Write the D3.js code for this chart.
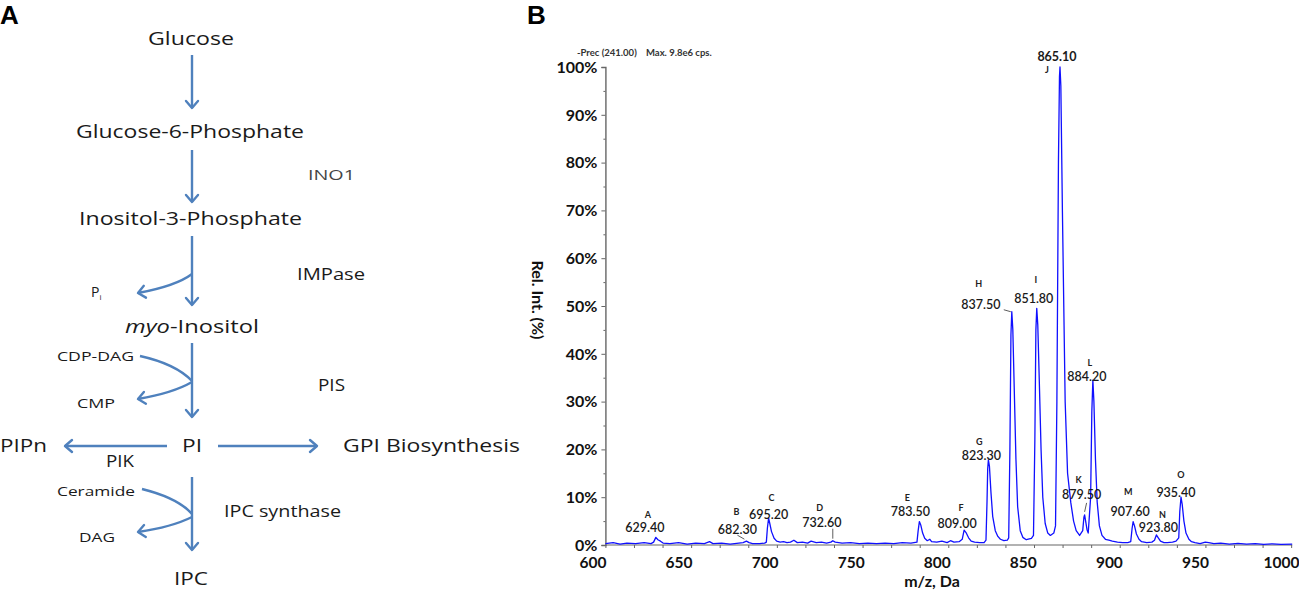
<!DOCTYPE html>
<html lang="en">
<head>
<meta charset="utf-8">
<title>Inositol pathway and MS spectrum</title>
<script src="https://d3js.org/d3.v7.min.js"></script>
<style>
  body { margin: 0; background: #fff; }
  svg { display: block; }
</style>
</head>
<body>
<svg width="1299" height="591"></svg>
<script>
// ---- panel B data: precursor ion scan trace (m/z on drawn axis, relative intensity %) ----
var traceMz = [607.5,612,616,620,625,630,634,
  635.5,636.8,638,639.5,641,645,650,655,660,665,668,670,675,680,685,
  687.5,689.4,691,693,697,700,
  701,701.6,702.3,703,704,705.5,707,709,711,713,715,717,719,722,725,727,730,733,736,
  738.5,739.6,741,745,750,755,760,765,770,775,780,785,
  788.5,789.2,789.9,790.7,791.8,793,794.5,796,797,800,803,806,808,810,813,
  814.8,815.9,817,818.5,820,822,825,827.5,
  828.6,829.2,829.6,830,830.6,831.5,832.5,834,835.5,837,839,841,
  841.8,842.5,843.1,843.6,844.2,845,846,847,848.5,850,852,855,
  856.2,857,857.6,858.1,858.7,859.6,860.6,861.6,863,864.5,866,868,
  869,869.8,870.7,871.3,871.6,872.1,873,874.6,876,877.9,879.5,881,883,
  884.8,885.5,885.9,886.5,887.3,
  888,889.4,890.1,890.7,891.3,892.2,893.2,894.5,896,898,900,902,905,908,911,
  912.7,913.5,914.1,914.9,916,917.5,919,922,925,
  926.5,927.6,928.5,930,932,934,937,939,
  940.6,941.2,941.9,942.6,943.6,944.8,946.5,948,950,
  953,956,958,961,965,970,975,980,985,990,995,1000,1006.5];
var tracePct = [0.3,0.5,0.2,0.4,0.3,0.5,0.3,
  0.6,1.6,1.1,0.8,0.4,0.3,0.5,0.2,0.4,0.3,0.7,0.3,0.4,0.2,0.4,
  0.5,0.8,0.5,0.3,0.3,0.4,
  0.6,3.5,5.6,4.5,2.8,1.4,0.8,0.6,0.7,0.5,0.6,1.0,0.5,0.6,0.4,0.8,0.5,0.6,0.4,
  0.6,0.9,0.6,0.4,0.5,0.3,0.4,0.3,0.4,0.3,0.5,0.4,
  0.6,3.0,4.9,4.2,2.5,1.4,0.9,1.2,0.7,0.6,0.8,0.5,0.9,0.6,0.7,
  1.2,3.1,2.6,1.5,0.8,0.6,0.5,0.5,
  1.0,9,16,17.8,16.5,11,6,3,1.8,1.2,0.9,1.0,
  1.5,20,44,48.8,45,33,18,8,3,1.6,1.1,1.4,
  2,22,45,49.5,46,34,20,10,4.5,2.5,2,2.5,
  4,30,80,98,100,96,70,30,15,8.8,5,3,2,
  3,5.8,6.3,5,3.2,
  2.5,10,28,34.5,30,18,9,4,2,1.2,1.0,0.8,0.6,0.5,0.5,
  0.7,3.5,4.9,4.0,2.3,1.2,0.7,0.5,0.6,
  1.0,2.1,1.6,0.8,0.5,0.5,0.6,0.8,
  1.5,7,10,8.5,5,2.5,1.2,0.7,0.5,
  0.3,0.6,0.5,0.3,0.4,0.2,0.35,0.2,0.3,0.15,0.25,0.15,0.2];

// annotated peaks
var peakIds = ["A","B","C","D","E","F","G","H","I","J","K","L","M","N","O"];
var peakLabels = ["629.40","682.30","695.20","732.60","783.50","809.00","823.30","837.50",
  "851.80","865.10","879.50","884.20","907.60","923.80","935.40"];
var peakMz = [636.8,689.4,702.3,739.6,789.9,815.9,830.0,843.6,858.1,871.6,885.9,890.7,914.1,927.6,941.9];
var peakPct = [1.6,0.8,5.6,0.9,4.9,3.1,17.8,48.8,49.5,100,6.3,34.5,4.9,2.1,10.0];

var xTicks = [600,650,700,750,800,850,900,950,1000];
var yTicks = [0,10,20,30,40,50,60,70,80,90,100];

// label offsets from the apex (layout only)
var labelPos = {
  A:{l:[-8,-23],n:[-11,-10]}, B:{l:[-10,-29],n:[-9,-12],lead:[[-9,-6],[-2,-2]]},
  C:{l:[3,-20],n:[0,-4]},     D:{l:[-13,-33],n:[-11,-18],lead:[[0,-12],[0,-2]]},
  E:{l:[-12,-24],n:[-9,-10]}, F:{l:[-3,-22],n:[-7,-7]},
  G:{l:[-9,-18],n:[-7,-4]},   H:{l:[-33,-28],n:[-31,-7],lead:[[-8,-2],[-1,0]]},
  I:{l:[-1,-29],n:[-3,-10]},  J:{l:[-13,3],n:[-3,-10]},
  K:{l:[-6,-35],n:[-3,-20],lead:[[2,-12],[0,-3]]},
  L:{l:[-3,-17],n:[-6,-3]},   M:{l:[-5,-30],n:[-3,-10]},
  N:{l:[6,-20],n:[2,-7]},     O:{l:[0,-22],n:[-5,-5]}
};

var svg = d3.select("svg");
var blue = "#4f81bd";

// ================= panel A: pathway =================
var gA = svg.append("g").attr("class","panelA");
svg.append("defs").append("marker")
  .attr("id","chev").attr("markerUnits","userSpaceOnUse")
  .attr("viewBox","-9 -8 11 16").attr("refX",0).attr("refY",0)
  .attr("markerWidth",11).attr("markerHeight",16).attr("orient","auto")
  .append("path").attr("d","M-7,-6 L0,0 L-7,6")
  .attr("fill","none").attr("stroke",blue).attr("stroke-width",2.4)
  .attr("stroke-linecap","round").attr("stroke-linejoin","round");

svg.append("text").attr("x",0).attr("y",24)
  .style("font-family","Liberation Sans, Arial, sans-serif").style("font-weight","bold")
  .style("font-size","26px").text("A");
svg.append("text").attr("x",527).attr("y",24)
  .style("font-family","Liberation Sans, Arial, sans-serif").style("font-weight","bold")
  .style("font-size","26px").text("B");

var nodes = [
  {t:"Glucose", x:148, y:45, w:86, s:18},
  {t:"Glucose-6-Phosphate", x:76, y:138, w:228, s:18},
  {t:"INO1", x:308, y:180, w:47, s:15, c:"#444"},
  {t:"Inositol-3-Phosphate", x:79, y:225, w:223, s:18},
  {t:"IMPase", x:297, y:280, w:68, s:16},
  {t:"CDP-DAG", x:57, y:361, w:77, s:13},
  {t:"CMP", x:77, y:408, w:38, s:13},
  {t:"PIS", x:318, y:391, w:27, s:16},
  {t:"PIPn", x:0, y:452, w:47, s:18},
  {t:"PI", x:182, y:452, w:20, s:18},
  {t:"GPI Biosynthesis", x:343, y:452, w:177, s:18},
  {t:"PIK", x:106, y:467, w:28, s:16},
  {t:"Ceramide", x:57, y:496, w:78, s:13},
  {t:"IPC synthase", x:224, y:517, w:117, s:16},
  {t:"DAG", x:79, y:542, w:36, s:13},
  {t:"IPC", x:174, y:585, w:34, s:18}
];
gA.selectAll("text.node").data(nodes).enter().append("text")
  .attr("class","node")
  .attr("x",function(d){return d.x;}).attr("y",function(d){return d.y;})
  .attr("textLength",function(d){return d.w;}).attr("lengthAdjust","spacingAndGlyphs")
  .style("font-family","Open Sans, sans-serif")
  .style("font-size",function(d){return d.s+"px";})
  .style("fill",function(d){return d.c || "#1a1a1a";})
  .text(function(d){return d.t;});

var myo = gA.append("text").attr("x",125).attr("y",333)
  .attr("textLength",134).attr("lengthAdjust","spacingAndGlyphs")
  .style("font-family","Open Sans, sans-serif").style("font-size","18px").style("fill","#1a1a1a");
myo.append("tspan").style("font-style","italic").text("myo");
myo.append("tspan").text("-Inositol");

var pi = gA.append("text").attr("x",91).attr("y",297)
  .style("font-family","Open Sans, sans-serif").style("font-size","14px").style("fill","#1a1a1a");
pi.append("tspan").text("P");
pi.append("tspan").attr("dy",3).style("font-size","8px").text("i");

var arrows = [
  "M192,55 L192,108",
  "M192,150 L192,202",
  "M192,236 L192,305",
  "M192,274 Q176,286 138,293",
  "M192,343 L192,417",
  "M192,382 Q173,393 138,399",
  "M167,446 L65,446",
  "M218,446 L317,446",
  "M192,477 L192,550",
  "M192,517 Q172,527 138,532"
];
gA.selectAll("path.arr").data(arrows).enter().append("path")
  .attr("class","arr").attr("d",function(d){return d;})
  .attr("fill","none").attr("stroke",blue).attr("stroke-width",2.4)
  .attr("marker-end","url(#chev)");
// substrate branches without arrowheads
["M140,356 Q176,364 192,381","M142,489 Q178,498 192,514"].forEach(function(p){
  gA.append("path").attr("d",p).attr("fill","none")
    .attr("stroke",blue).attr("stroke-width",2.4);
});

// ================= panel B: spectrum =================
var x = d3.scaleLinear().domain([600,1000]).range([592.5,1281]);
var y = d3.scaleLinear().domain([0,100]).range([545,67]);
var x0 = 607.5, x1 = 1006.5;
var gB = svg.append("g").attr("class","panelB");
var fontB = "Lato, Carlito, Calibri, sans-serif";

svg.append("text").attr("x",577).attr("y",56)
  .style("font-family",fontB).style("font-size","9.5px").style("font-weight","bold")
  .style("fill","#333").attr("xml:space","preserve")
  .text("-Prec (241.00)    Max. 9.8e6 cps.");

// y axis
var yAxis = gB.append("g").attr("transform","translate("+x(x0)+",0)")
  .call(d3.axisLeft(y).tickValues(yTicks).tickSize(4).tickPadding(4)
    .tickFormat(function(d){return d+"%";}));
yAxis.select(".domain").attr("stroke","#666").attr("stroke-width",1.4);
yAxis.selectAll(".tick line").attr("stroke","#666");
yAxis.selectAll(".tick text").style("font-family",fontB).style("font-weight","bold")
  .style("font-size","16px").attr("fill","#111").attr("dy","0.33em");
gB.append("g").attr("transform","translate("+x(x0)+",0)")
  .call(d3.axisLeft(y).tickValues(d3.range(5,100,10)).tickSize(2).tickFormat(""))
  .call(function(g){ g.select(".domain").remove(); g.selectAll("line").attr("stroke","#666"); });

// x axis
var xAxis = gB.append("g").attr("transform","translate(0,"+y(0)+")")
  .call(d3.axisBottom(x).tickValues(xTicks).tickSize(0).tickPadding(12)
    .tickFormat(d3.format("d")));
xAxis.select(".domain").remove();
xAxis.selectAll(".tick text").style("font-family",fontB).style("font-weight","bold")
  .style("font-size","15.5px").attr("fill","#111");
gB.append("g").attr("transform","translate(0,"+y(0)+")")
  .call(d3.axisBottom(x).tickValues(d3.range(x0,x1,16.6)).tickSize(3).tickFormat(""))
  .call(function(g){ g.select(".domain").remove(); g.selectAll("line").attr("stroke","#666"); });
gB.append("line").attr("x1",x(x0)).attr("x2",x(x1)).attr("y1",y(0)).attr("y2",y(0))
  .attr("stroke","#666").attr("stroke-width",1.2);

gB.append("text").attr("x",932).attr("y",587).attr("text-anchor","middle")
  .style("font-family",fontB).style("font-weight","bold").style("font-size","16px")
  .style("fill","#111").text("m/z, Da");
gB.append("text").attr("transform","translate(532,300) rotate(90)").attr("text-anchor","middle")
  .style("font-family",fontB).style("font-weight","bold").style("font-size","16px")
  .style("fill","#111").text("Rel. Int. (%)");

// trace
var pts = traceMz.map(function(m,i){return [m,tracePct[i]];});
gB.append("path").datum(pts)
  .attr("d",d3.line().x(function(d){return x(d[0]);}).y(function(d){return y(d[1]);}))
  .attr("fill","none").attr("stroke","#1010ff").attr("stroke-width",1.3)
  .attr("stroke-linejoin","round");

// peak annotations
var peaks = peakIds.map(function(id,i){
  return {id:id, lab:peakLabels[i], px:x(peakMz[i]), py:y(peakPct[i])};
});
var pg = gB.selectAll("g.peak").data(peaks).enter().append("g").attr("class","peak");
pg.append("text")
  .attr("x",function(d){return d.px+labelPos[d.id].l[0];})
  .attr("y",function(d){return d.py+labelPos[d.id].l[1];})
  .attr("dy","0.35em").attr("text-anchor","middle")
  .style("font-family",fontB).style("font-weight","bold").style("font-size","9px")
  .style("fill","#222").text(function(d){return d.id;});
pg.append("text")
  .attr("x",function(d){return d.px+labelPos[d.id].n[0];})
  .attr("y",function(d){return d.py+labelPos[d.id].n[1];})
  .attr("dy","0.35em").attr("text-anchor","middle")
  .style("font-family",fontB).style("font-size","12.5px")
  .style("font-weight",function(d){return d.id==="J" ? "bold" : "600";})
  .style("fill","#1a1a1a").text(function(d){return d.lab;});
pg.filter(function(d){return labelPos[d.id].lead;}).append("line")
  .attr("x1",function(d){return d.px+labelPos[d.id].lead[0][0];})
  .attr("y1",function(d){return d.py+labelPos[d.id].lead[0][1];})
  .attr("x2",function(d){return d.px+labelPos[d.id].lead[1][0];})
  .attr("y2",function(d){return d.py+labelPos[d.id].lead[1][1];})
  .attr("stroke","#333").attr("stroke-width",0.8);
</script>
</body>
</html>
